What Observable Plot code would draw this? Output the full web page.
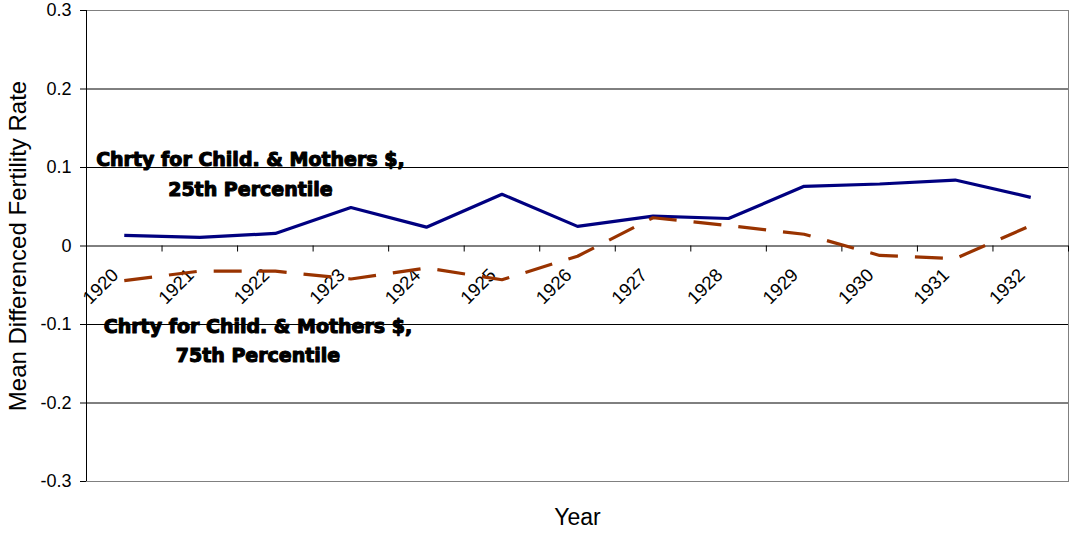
<!DOCTYPE html>
<html>
<head>
<meta charset="utf-8">
<script src="https://cdn.jsdelivr.net/npm/d3@7"></script>
<script src="https://cdn.jsdelivr.net/npm/@observablehq/plot@0.6"></script>
<style>
  html, body { margin: 0; padding: 0; background: #fff; }
</style>
</head>
<body>
<div id="chart"></div>
<script>
// Mean differenced fertility rate by year, for counties at the 25th and 75th
// percentile of charity spending for children & mothers.
const years = [1920, 1921, 1922, 1923, 1924, 1925, 1926, 1927, 1928, 1929, 1930, 1931, 1932];
const pct25 = [0.0135, 0.011, 0.016, 0.049, 0.024, 0.066, 0.025, 0.038, 0.035, 0.076, 0.079, 0.084, 0.062];
const pct75 = [-0.044, -0.032, -0.032, -0.042, -0.028, -0.043, -0.013, 0.036, 0.026, 0.015, -0.012, -0.016, 0.026];

const yTicks = [-0.3, -0.2, -0.1, 0, 0.1, 0.2, 0.3];
const yTickLabels = ["-0.3", "-0.2", "-0.1", "0", "0.1", "0.2", "0.3"];
const xTickLabels = years.map(String);

const label25 = "Chrty for Child. & Mothers $,\n25th Percentile";
const label75 = "Chrty for Child. & Mothers $,\n75th Percentile";
const yTitle = "Mean Differenced Fertility Rate";
const xTitle = "Year";

const rows25 = years.map((year, i) => ({year, value: pct25[i]}));
const rows75 = years.map((year, i) => ({year, value: pct75[i]}));
// category boundaries, where the small tick marks sit on the zero line
const boundaries = d3.range(years.length + 1).map(i => years[0] - 0.5 + i);

const annotationStyle = {
  fontFamily: "'DejaVu Sans', sans-serif",
  fontWeight: "bold",
  fontSize: 19,
  lineHeight: 1.56,
  fill: "#000",
  stroke: "#000",
  strokeWidth: 1.1,
  textAnchor: "middle"
};

const chart = Plot.plot({
  width: 1070,
  height: 533,
  marginLeft: 86,
  marginRight: 2,
  marginTop: 10,
  marginBottom: 52,
  style: {fontFamily: "'Liberation Sans', Arial, sans-serif", background: "#fff", color: "#000"},
  x: {domain: [years[0] - 0.5, years[years.length - 1] + 0.5], axis: null},
  y: {domain: [-0.3, 0.3], axis: null},
  marks: [
    // horizontal gridlines
    Plot.ruleY(yTicks.filter(d => d !== 0 && Math.abs(d) !== 0.3), {stroke: "#000", strokeWidth: 1}),
    // plot-area border
    Plot.frame({stroke: "#808080", strokeWidth: 1}),
    // value axis
    Plot.ruleX([years[0] - 0.5], {stroke: "#000"}),
    Plot.axisY({
      ticks: yTicks,
      tickFormat: d => yTickLabels[yTicks.indexOf(d)],
      tickSize: 6,
      tickPadding: 9,
      fontSize: 18,
      stroke: "#000",
      fill: "#000",
      label: null
    }),
    // category axis along zero
    Plot.ruleY([0], {stroke: "#000"}),
    Plot.ruleX(boundaries, {y1: 0, y2: 0, insetBottom: -6, stroke: "#000"}),
    Plot.text(years, {
      x: d => d,
      y: 0,
      text: (d, i) => xTickLabels[i],
      rotate: -45,
      textAnchor: "end",
      dx: -9,
      dy: 26,
      fontSize: 18.5,
      fill: "#000"
    }),
    // series
    Plot.line(rows25, {x: "year", y: "value", stroke: "#000080", strokeWidth: 3.2, strokeLinecap: "butt", strokeLinejoin: "miter"}),
    Plot.line(rows75, {x: "year", y: "value", stroke: "#993300", strokeWidth: 3.2, strokeDasharray: "28,17", strokeLinecap: "butt", strokeLinejoin: "miter"}),
    // series labels
    Plot.text([label25], {x: 1921.67, y: 0.095, text: d => d, ...annotationStyle}),
    Plot.text([label75], {x: 1921.77, y: -0.117, text: d => d, ...annotationStyle}),
    // axis titles
    Plot.text([yTitle], {frameAnchor: "left", rotate: -90, textAnchor: "middle", dx: -68, fontSize: 24, fill: "#000", text: d => d}),
    Plot.text([xTitle], {frameAnchor: "bottom", dy: 43, fontSize: 23, fill: "#000", text: d => d})
  ]
});

document.getElementById("chart").appendChild(chart);
</script>
</body>
</html>
